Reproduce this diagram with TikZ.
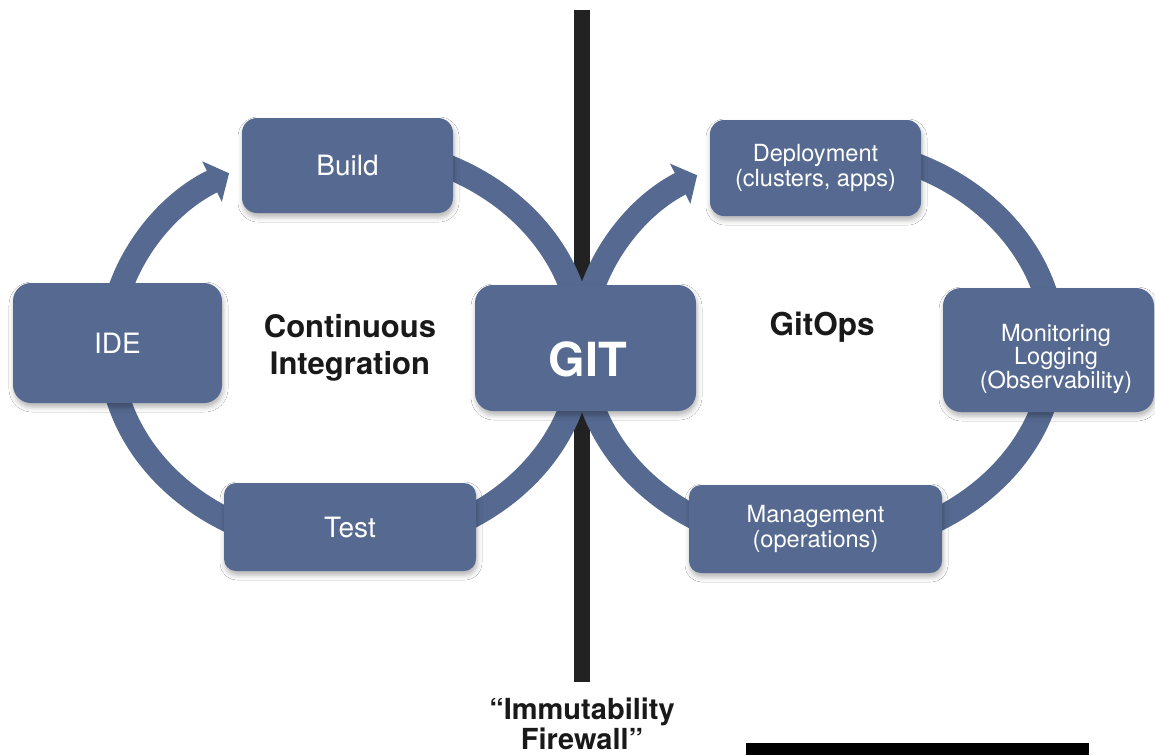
\documentclass[tikz,border=0pt]{standalone}
\usepackage{fontspec}
\setmainfont{TeX Gyre Heros}
\usetikzlibrary{arrows.meta,shadows.blur}
\definecolor{slate}{HTML}{566A91}
\definecolor{barblack}{HTML}{222222}
\begin{document}
\begin{tikzpicture}[x=1pt,y=-1pt,
  box/.style={fill=slate, rounded corners=#1, inner sep=0pt, text=white, align=center,
    blur shadow={shadow xshift=1pt, shadow yshift=-4pt, shadow opacity=30, shadow blur radius=5pt}},
  box/.default=15pt,
  ring/.style={draw=slate, line width=24pt, -{Triangle[length=19pt,width=44pt]}},
  bigtxt/.style={font=\fontsize{28}{32}\selectfont},
  smalltxt/.style={font=\fontsize{23.6}{25}\selectfont},
  boldtxt/.style={font=\bfseries\fontsize{31}{37}\selectfont, text=black!90, align=center, inner sep=0pt},
]
\useasboundingbox (0,0) rectangle (1155,755);
\fill[white] (0,0) rectangle (1155,755);

% firewall bar
\fill[barblack] (574,10) rectangle (590,682);
\fill[black] (746,743) rectangle (1089,755);

% ring centres
\coordinate (ciC) at (346,347);
\coordinate (goC) at (818,347);

% rings
\draw[ring] ([shift={(ciC)}]-80:236 and 200) arc[start angle=-80, end angle=240.3, x radius=236, y radius=200];
\draw[ring] ([shift={(goC)}]-80:236 and 200) arc[start angle=-80, end angle=239.2, x radius=236, y radius=200];

% CI boxes
\node[box=15pt, bigtxt, minimum width=211pt, minimum height=95pt] (build) at (347.5,165.5) {Build};
\node[box=18pt, bigtxt, minimum width=209pt, minimum height=120pt] (ide) at (117.5,343) {IDE};
\node[box=12pt, bigtxt, minimum width=252pt, minimum height=88pt] (test) at (350,527) {Test};

% GIT
\node[box=18pt, minimum width=221pt, minimum height=126pt] (git) at (585.5,348) {};
\node[font=\bfseries\fontsize{47}{50}\selectfont, text=white, anchor=base, inner sep=0pt] (gitlabel) at (588,376) {GIT};

% GitOps boxes
\node[box=14pt, smalltxt, minimum width=211pt, minimum height=96pt] (deploy) at (815.5,168) {Deployment\\(clusters, apps)};
\node[box=18pt, minimum width=211pt, minimum height=124pt] (monitor) at (1048.5,350) {};
\node[font=\fontsize{23.6}{22}\selectfont, text=white, align=center, inner sep=0pt] (monlabel) at (1056,359) {Monitoring\\Logging\\(Observability)};
\node[box=12pt, smalltxt, minimum width=253pt, minimum height=88pt] (manage) at (815.5,529) {Management\\(operations)};

% titles
\node[boldtxt] (ci) at (350,347.4) {Continuous\\Integration};
\node[boldtxt, font=\bfseries\fontsize{31.5}{37}\selectfont, anchor=base] (gitops) at (822,335) {GitOps};
\node[boldtxt, font=\bfseries\fontsize{29}{30}\selectfont] (firewall) at (582,724) {“Immutability\\Firewall”};
\end{tikzpicture}
\end{document}
